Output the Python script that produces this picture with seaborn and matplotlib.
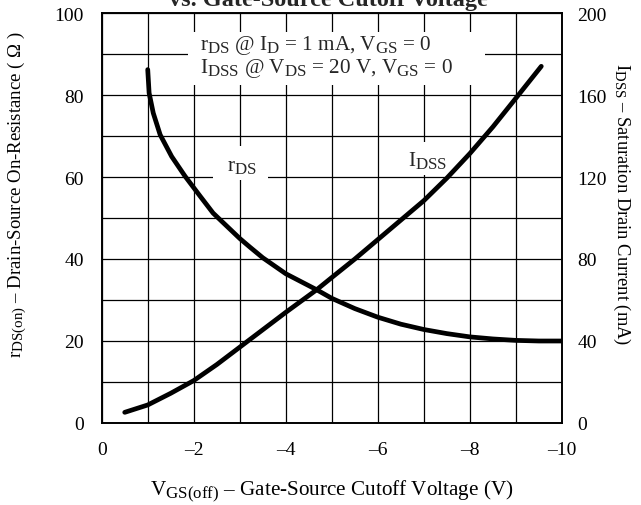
"""
On-resistance and saturation drain current vs gate-source cutoff voltage
"""

import numpy as np
import pandas as pd
import matplotlib
matplotlib.use('Agg')
import matplotlib.pyplot as plt
import matplotlib._mathtext as mathtext_impl
import seaborn as sns
from matplotlib.patches import Rectangle
from matplotlib.ticker import MultipleLocator, FuncFormatter

# rDS(on) curve (left axis, ohm)
rds_vgs = [-1.0, -1.03, -1.12, -1.27, -1.52, -1.81, -2.14, -2.42, -3.0, -3.22,
           -3.5, -4.0, -4.67, -5.0, -5.5, -6.0, -6.5, -7.0, -7.5, -8.0,
           -8.5, -9.0, -9.5, -10.0]
rds_ohm = [86.2, 80.5, 75.6, 70.3, 65.0, 60.2, 55.3, 51.2, 45.0, 42.9,
           40.3, 36.4, 32.5, 30.4, 27.9, 25.8, 24.1, 22.8, 21.8, 21.0,
           20.5, 20.15, 20.0, 20.0]

# IDSS curve (right axis, mA)
idss_vgs = [-0.5, -1.0, -1.5, -2.0, -2.5, -3.0, -3.5, -4.0, -4.67, -5.0,
            -5.5, -6.0, -6.5, -7.0, -7.5, -8.0, -8.5, -9.0, -9.55]
idss_ma = [5.2, 8.8, 14.5, 20.7, 28.5, 37.0, 45.5, 54.0, 65.0, 71.0,
           80.0, 89.5, 99.0, 108.5, 119.5, 131.5, 144.5, 158.5, 174.0]

x_ticks = [0, -2, -4, -6, -8, -10]
left_ticks = [0, 20, 40, 60, 80, 100]
right_ticks = [0, 40, 80, 120, 160, 200]

sns.set_theme(style='white')
plt.rcParams['font.family'] = ['Liberation Serif', 'DejaVu Serif']
plt.rcParams['mathtext.fontset'] = 'custom'
plt.rcParams['mathtext.rm'] = 'Liberation Serif'
plt.rcParams['mathtext.it'] = 'Liberation Serif:italic'
# subscripts in the datasheet are a bit larger than mathtext's default
mathtext_impl.SHRINK_FACTOR = 0.8

TICK_FS = 14
BOX_FS = 15.2

fig = plt.figure(figsize=(6.41, 5.06), dpi=100)
ax = fig.add_axes([101.7 / 641, 1 - 424 / 506, 460.3 / 641, 410 / 506])
ax2 = ax.twinx()

ax.set_axisbelow(True)
ax.set_xlim(0, -10)
ax.set_ylim(0, 100)
ax2.set_ylim(0, 200)

ax.set_xticks(x_ticks)
ax.set_yticks(left_ticks)
ax2.set_yticks(right_ticks)
ax.xaxis.set_minor_locator(MultipleLocator(1))
ax.yaxis.set_minor_locator(MultipleLocator(10))
ax.xaxis.set_major_formatter(FuncFormatter(lambda v, p: f"{v:g}".replace('-', '\u2013')))
ax.grid(which='both', color='black', lw=0.9)
ax2.grid(False)

ax.tick_params(which='both', length=0, labelsize=TICK_FS, colors='black')
ax.tick_params(axis='y', pad=13)
ax.tick_params(axis='x', pad=13)
ax2.tick_params(length=0, labelsize=TICK_FS, pad=11, colors='black')

for a in (ax, ax2):
    for s in a.spines.values():
        s.set_color('black')
        s.set_linewidth(1.2)

# white label boxes over the grid
ax.add_patch(Rectangle((-1.87, 82.4), -6.46, 13.0, facecolor='white',
                       edgecolor='none', zorder=1))
ax.add_patch(Rectangle((-2.42, 59.2), -1.2, 8.4, facecolor='white',
                       edgecolor='none', zorder=1))
ax.add_patch(Rectangle((-6.45, 60.6), -1.25, 8.0, facecolor='white',
                       edgecolor='none', zorder=1))

sns.lineplot(x=rds_vgs, y=rds_ohm, ax=ax, color='black', lw=3.4, sort=False, zorder=3)
sns.lineplot(x=idss_vgs, y=idss_ma, ax=ax2, color='black', lw=3.4, sort=False, zorder=3)

ax.text(-2.14, 92.4, r'r$_{\rm DS}$ @ I$_{\rm D}$ = 1 mA, V$_{\rm GS}$ = 0',
        fontsize=BOX_FS, ha='left', va='center', zorder=4)
ax.text(-2.14, 86.6, r'I$_{\rm DSS}$ @ V$_{\rm DS}$ = 20 V, V$_{\rm GS}$ = 0',
        fontsize=BOX_FS, ha='left', va='center', zorder=4)
ax.text(-2.73, 62.8, r'r$_{\rm DS}$', fontsize=BOX_FS, ha='left', va='center', zorder=4)
ax.text(-6.65, 64.3, r'I$_{\rm DSS}$', fontsize=BOX_FS, ha='left', va='center', zorder=4)

ax.set_xlabel('V$_{\\rm GS(off)}$ \u2013 Gate-Source Cutoff Voltage (V)',
              fontsize=15.2, color='black')
ax.xaxis.set_label_coords(0.5, (424 - 491) / 410)
ax.xaxis.label.set_va('center')

ax.set_ylabel('r$_{\\rm DS(on)}$ \u2013 Drain-Source On-Resistance ( \u03a9 )',
              fontsize=13.5, color='black')
ax.yaxis.set_label_coords((17 - 101.7) / 460.3, (424 - 195) / 410)
ax.yaxis.label.set_va('center')

ax2.set_ylabel('I$_{\\rm DSS}$ \u2013 Saturation Drain Current (mA)',
               fontsize=13.3, color='black', rotation=270)
ax2.yaxis.set_label_coords((622 - 101.7) / 460.3, (424 - 204) / 410)
ax2.yaxis.label.set_va('center')

fig.text(328 / 641, 1 - 6 / 506, 'vs. Gate-Source Cutoff Voltage',
         ha='center', va='baseline', fontsize=17.5, fontweight='bold')

fig.savefig('out.png', dpi=100)
